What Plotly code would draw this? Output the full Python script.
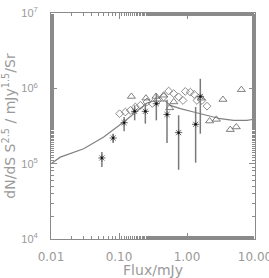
import plotly.graph_objects as go
import numpy as np

# Asterisks with error bars
star_x = [0.056, 0.082, 0.119, 0.170, 0.244, 0.354, 0.508, 0.753, 1.34, 1.57]
star_y = [1.19e5, 2.19e5, 3.5e5, 4.95e5, 4.95e5, 6.25e5, 4.5e5, 2.58e5, 3.33e5, 7.8e5]
star_hi = [1.43e5, 2.5e5, 4.16e5, 5.94e5, 6.25e5, 8.5e5, 7.08e5, 4.39e5, 5.65e5, 1.34e6]
star_lo = [0.90e5, 1.88e5, 2.69e5, 3.76e5, 3.40e5, 3.76e5, 1.88e5, 0.83e5, 1.03e5, 2.5e5]

# Open diamonds
dia_x = [0.102, 0.124, 0.147, 0.174, 0.206, 0.258, 0.309, 0.37, 0.454, 0.537,
         0.637, 0.753, 0.873, 0.944, 1.12, 1.28, 1.40, 1.66, 1.97]
dia_y = [4.6e5, 4.85e5, 5.1e5, 5.65e5, 5.95e5, 6.6e5, 6.3e5, 6.9e5, 7.7e5, 9.2e5,
         8.5e5, 7.7e5, 6.9e5, 9.1e5, 8.9e5, 8.3e5, 6.9e5, 6.9e5, 5.8e5]

# Open triangles
tri_x = [0.152, 0.249, 0.35, 0.454, 0.556, 0.64, 1.62, 2.15, 2.7, 3.38, 4.33, 5.3, 6.3]
tri_y = [7.8e5, 7.4e5, 7.8e5, 8.1e5, 5.5e5, 6.6e5, 7.4e5, 3.68e5, 3.87e5, 7.1e5, 2.83e5, 3.07e5, 9.6e5]

# Model curve
model_x = [0.01, 0.0137, 0.0302, 0.0596, 0.117, 0.174, 0.258, 0.324, 0.48, 0.569,
           0.798, 1.25, 1.97, 3.09, 4.85, 7.62, 10.0]
model_y = [1.0e5, 1.22e5, 1.58e5, 2.26e5, 3.57e5, 4.85e5, 6.38e5, 6.79e5, 6.79e5, 5.94e5,
           5.37e5, 4.85e5, 4.39e5, 3.95e5, 3.76e5, 3.76e5, 3.92e5]

x_ticks = [0.01, 0.1, 1, 10]
x_labels = ["0.01", "0.10", "1.00", "10.00"]
y_ticks = [1e4, 1e5, 1e6, 1e7]
y_labels = ["10<sup>4</sup>", "10<sup>5</sup>", "10<sup>6</sup>", "10<sup>7</sup>"]

sy = np.array(star_y)
err_plus = np.array(star_hi) - sy
err_minus = sy - np.array(star_lo)

axcol = "#8a8a8a"
txtcol = "#9a9a9a"
fnt = "DejaVu Sans, sans-serif"

fig = go.Figure()
fig.add_trace(go.Scatter(x=model_x, y=model_y, mode="lines",
                         line=dict(color="#808080", width=1.2), hoverinfo="skip"))
fig.add_trace(go.Scatter(x=dia_x, y=dia_y, mode="markers",
                         marker=dict(symbol="diamond-open", size=6, color="#707070",
                                     line=dict(width=0.8, color="#707070"))))
fig.add_trace(go.Scatter(x=tri_x, y=tri_y, mode="markers",
                         marker=dict(symbol="triangle-up-open", size=7, color="#606060",
                                     line=dict(width=0.8, color="#606060"))))
fig.add_trace(go.Scatter(x=star_x, y=star_y, mode="markers",
                         error_y=dict(type="data", symmetric=False, array=err_plus,
                                      arrayminus=err_minus, width=0, thickness=1.5,
                                      color="#7a7a7a"),
                         marker=dict(symbol="asterisk-open", size=6, color="#666666",
                                     line=dict(width=1, color="#666666"))))
fig.add_trace(go.Scatter(x=star_x, y=star_y, mode="markers",
                         marker=dict(symbol="circle", size=2.5, color="#111111")))

fig.update_layout(
    width=269, height=278,
    margin=dict(l=51, r=14, t=13, b=39, autoexpand=False),
    paper_bgcolor="white", plot_bgcolor="white",
    showlegend=False,
    font=dict(family=fnt, color=txtcol, size=12),
)
fig.update_xaxes(type="log", range=[-2, 1], tickvals=x_ticks, ticktext=x_labels,
                 automargin=False,
                 showgrid=False, zeroline=False, showline=True, linecolor=axcol,
                 linewidth=1, mirror="ticks", ticks="inside", ticklen=6, tickcolor=axcol,
                 minor=dict(ticks="inside", ticklen=3, tickcolor=axcol, showgrid=False),
                 tickfont=dict(size=12, color=txtcol), ticklabeloverflow="allow",
                 ticklabelstandoff=7,
                 title=dict(text="Flux/mJy", font=dict(size=14, color=txtcol), standoff=1))
fig.update_yaxes(type="log", range=[4, 7], tickvals=y_ticks, ticktext=y_labels,
                 automargin=False,
                 showgrid=False, zeroline=False, showline=True, linecolor=axcol,
                 linewidth=1, mirror="ticks", ticks="inside", ticklen=6, tickcolor=axcol,
                 minor=dict(ticks="inside", ticklen=3, tickcolor=axcol, showgrid=False),
                 tickfont=dict(size=11, color=txtcol, family="Liberation Sans, Arial"),
                 ticklabelstandoff=10,
                 title=dict(text="dN/dS S<sup>2.5</sup> / mJy<sup>1.5</sup>/Sr",
                            font=dict(size=14, color=txtcol), standoff=10))

fig.write_html("out.html")
